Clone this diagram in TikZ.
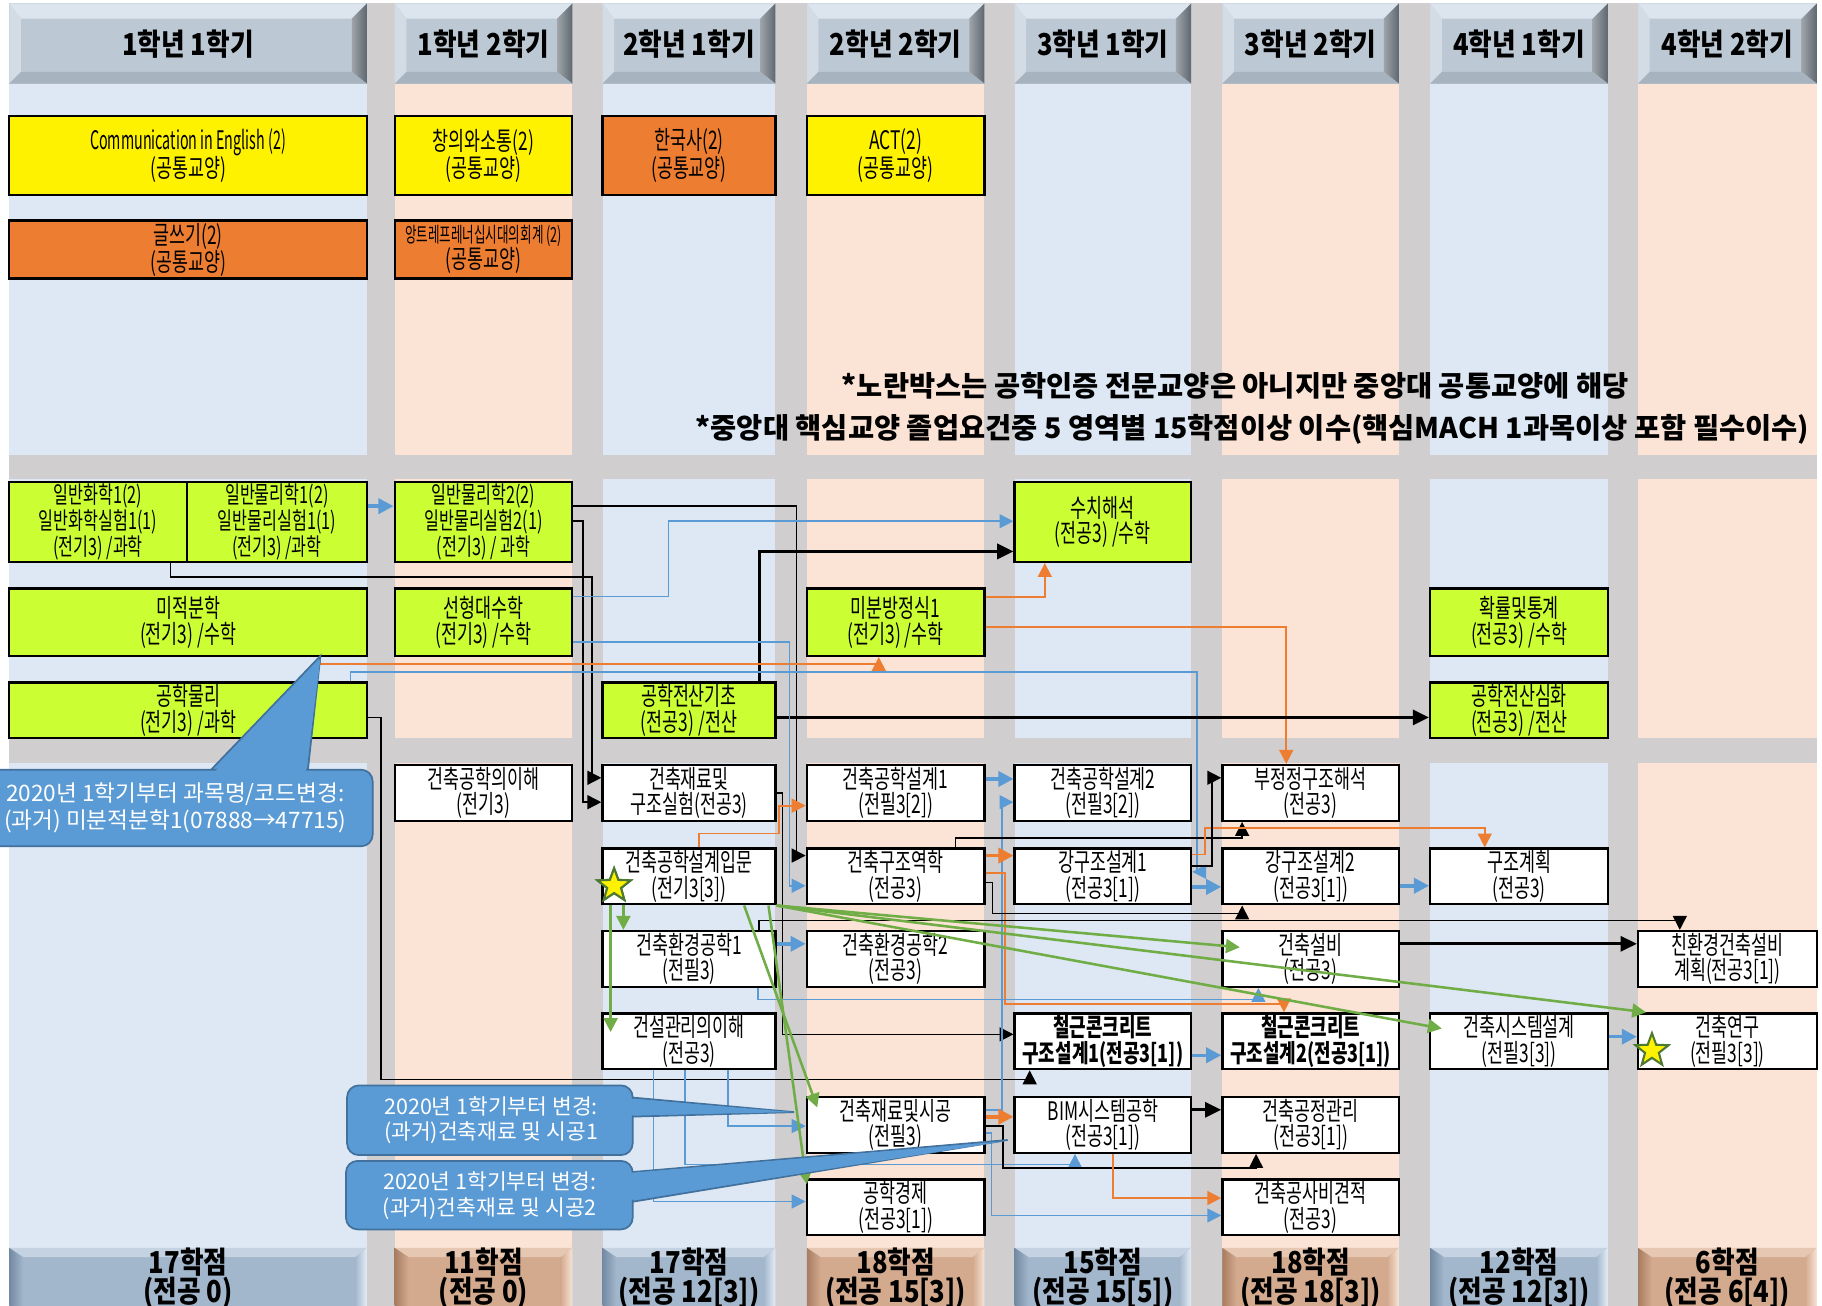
\documentclass[tikz,border=0pt]{standalone}
\usepackage{fontspec}
\usepackage{graphicx}
\setmainfont{Noto Sans CJK KR}
\newfontfamily\krA[FakeStretch=0.68]{Noto Sans CJK KR}
\newfontfamily\krB[FakeStretch=0.72]{Noto Sans CJK KR}
\newfontfamily\krC[FakeStretch=0.85]{Noto Sans CJK KR}
\newfontfamily\krN{Noto Sans CJK KR}
\usetikzlibrary{arrows.meta,calc,shapes.geometric}
\definecolor{bggray}{HTML}{D0CECE}
\definecolor{bandB}{HTML}{DDE8F4}
\definecolor{bandP}{HTML}{FBE4D6}
\definecolor{cgr}{HTML}{CCFF33}
\definecolor{cor}{HTML}{ED7D31}
\definecolor{cbl}{HTML}{5B9BD5}
\definecolor{cbld}{HTML}{41719C}
\definecolor{cgn}{HTML}{70AD47}
\definecolor{hdmain}{HTML}{BCC8D4}
\definecolor{hdtop}{HTML}{DCE5EE}
\definecolor{hdleft}{HTML}{D3DCE5}
\definecolor{hdright}{HTML}{5E6770}
\definecolor{hdbot}{HTML}{A7B3BF}
\definecolor{ftB}{HTML}{A3B7CC}
\definecolor{ftBd}{HTML}{738AA3}
\definecolor{ftBl}{HTML}{E4EDF6}
\definecolor{ftP}{HTML}{D4AA8F}
\definecolor{ftPd}{HTML}{A67C62}
\definecolor{ftPl}{HTML}{F7E4D6}
\newcommand{\cbx}[7]{\node[#6, minimum width={#4-#2}, minimum height={#5-#3}] (#1) at ({(#2+#4)/2},{(#3+#5)/2}) {#7};}
\newcommand{\hdr}[4]{%
 \fill[hdmain] (#1,3) rectangle (#2,72);
 \fill[hdtop] (#1,3) -- (#2,3) -- (#2-13,16) -- (#1+10,16) -- cycle;
 \fill[hdleft] (#1,3) -- (#1+10,16) -- (#1+10,62) -- (#1,72) -- cycle;
 \shade[left color=hdright!60!white, right color=hdright] (#2,3) -- (#2,72) -- (#2-13,62) -- (#2-13,16) -- cycle;
 \fill[hdbot] (#1,72) -- (#2,72) -- (#2-13,62) -- (#1+10,62) -- cycle;
 \node[htxt] (#3) at ({(#1+#2)/2},38) {#4};}
\newcommand{\ftr}[7]{%
 \fill[#4] (#1,1075) rectangle (#2,1130);
 \fill[#6!50!#4] (#1,1075) -- (#2,1075) -- (#2-10,1083) -- (#1+12,1083) -- cycle;
 \shade[left color=#5, right color=#4] (#1,1075) -- (#1+12,1083) -- (#1+12,1130) -- (#1,1130) -- cycle;
 \shade[left color=#4, right color=#6] (#2,1075) -- (#2-10,1083) -- (#2-10,1130) -- (#2,1130) -- cycle;
 \node[ftxt] (#3) at ({(#1+#2)/2},1101) {#7};}
\begin{document}
\begin{tikzpicture}[x=1pt,y=-1pt,
 bx/.style={draw=black, line width=2pt, inner sep=0pt, align=center, text=black, font=\krA\fontsize{22}{22}\selectfont},
 wb/.style={bx, fill=white},
 gb/.style={bx, fill=cgr},
 gb3/.style={bx, fill=cgr, font=\krA\fontsize{20.5}{21}\selectfont},
 yb/.style={bx, fill=yellow},
 ob/.style={bx, fill=cor},
 bb/.style={wb, font=\krB\bfseries\fontsize{21.5}{22}\selectfont},
 htxt/.style={font=\krC\bfseries\fontsize{26}{28}\selectfont, text=black},
 ftxt/.style={font=\krC\bfseries\fontsize{26}{25}\selectfont, text=black, align=center},
 note/.style={font=\krN\bfseries\fontsize{24.5}{28}\selectfont, text=black},
 ctxt/.style={font=\krN\fontsize{19.5}{23}\selectfont, text=white, align=center},
 call/.style={fill=cbl, draw=cbld, line width=1.5pt},
 tip/.style={-{Triangle[length=12pt,width=12pt]}},
 kl/.style={draw=black, line width=1.3pt, tip},
 kt/.style={draw=black, line width=2.6pt, -{Triangle[length=14pt,width=13pt]}},
 bl/.style={draw=cbl, line width=1.3pt, tip},
 bt/.style={draw=cbl, line width=3pt, -{Triangle[length=13pt,width=13pt]}},
 ol/.style={draw=cor, line width=1.5pt, tip},
 ot/.style={draw=cor, line width=3pt, -{Triangle[length=13pt,width=13pt]}},
 gl/.style={draw=cgn, line width=2.2pt, tip},
 starS/.style={star, star points=5, star point ratio=2.4, minimum size=30pt, inner sep=0pt, fill=yellow, draw=cgn!70!black, line width=1.8pt}
]
\useasboundingbox (0,0) rectangle (1569.5,1125);
\clip (0,0) rectangle (1569.5,1125);
\fill[white] (0,0) rectangle (1569.5,1125);
\fill[bggray] (8,3) rectangle (1565,1125);
% column bands
\foreach \a/\b/\c in {8/316/bandB,340/493/bandP,519/668/bandB,695/848/bandP,874/1026/bandB,1053/1205/bandP,1232/1385/bandB,1411/1565/bandP}{
 \fill[\c] (\a,72) rectangle (\b,392);
 \fill[\c] (\a,413) rectangle (\b,636);
 \fill[\c] (\a,657) rectangle (\b,1075);
}
% headers
\hdr{8}{316}{h1}{1학년 1학기}
\hdr{340}{493}{h2}{1학년 2학기}
\hdr{519}{668}{h3}{2학년 1학기}
\hdr{695}{848}{h4}{2학년 2학기}
\hdr{874}{1026}{h5}{3학년 1학기}
\hdr{1053}{1205}{h6}{3학년 2학기}
\hdr{1232}{1385}{h7}{4학년 1학기}
\hdr{1411}{1565}{h8}{4학년 2학기}
% footers
\ftr{8}{316}{f1}{ftB}{ftBd}{ftBl}{17학점\\(전공 0)}
\ftr{340}{493}{f2}{ftP}{ftPd}{ftPl}{11학점\\(전공 0)}
\ftr{519}{668}{f3}{ftB}{ftBd}{ftBl}{17학점\\(전공 12[3])}
\ftr{695}{848}{f4}{ftP}{ftPd}{ftPl}{18학점\\(전공 15[3])}
\ftr{874}{1026}{f5}{ftB}{ftBd}{ftBl}{15학점\\(전공 15[5])}
\ftr{1053}{1205}{f6}{ftP}{ftPd}{ftPl}{18학점\\(전공 18[3])}
\ftr{1232}{1385}{f7}{ftB}{ftBd}{ftBl}{12학점\\(전공 12[3])}
\ftr{1411}{1565}{f8}{ftP}{ftPd}{ftPl}{6학점\\(전공 6[4])}
% top general-education boxes
\cbx{ce}{8}{100}{316}{168}{yb}{\scalebox{0.56}[1]{\krN\fontsize{22}{22}\selectfont Communication in English (2)}\\(공통교양)}
\cbx{cs}{340}{100}{493}{168}{yb}{창의와소통(2)\\(공통교양)}
\cbx{hk}{519}{100}{668}{168}{ob}{한국사(2)\\(공통교양)}
\cbx{act}{695}{100}{848}{168}{yb}{ACT(2)\\(공통교양)}
\cbx{wr}{8}{190}{316}{240}{ob}{글쓰기(2)\\(공통교양)}
\cbx{ent}{340}{190}{493}{240}{ob}{\scalebox{0.6}[1]{\krN\fontsize{18}{20}\selectfont 앙트레프레너십시대의회계 (2)}\\(공통교양)}
% notes
\node[note] (n1) at (1064,332) {*노란박스는 공학인증 전문교양은 아니지만 중앙대 공통교양에 해당};
\node[note, anchor=east] (n2) at (1562,370) {*중앙대 핵심교양 졸업요건중 5 영역별 15학점이상 이수(핵심MACH 1과목이상 포함 필수이수)};
% basic science / math boxes
\cbx{chem}{8}{415}{161}{484}{gb3}{일반화학1(2)\\일반화학실험1(1)\\(전기3) /과학}
\cbx{phy1}{161}{415}{316}{484}{gb3}{일반물리학1(2)\\일반물리실험1(1)\\(전기3) /과학}
\cbx{phy2}{340}{415}{493}{484}{gb3}{일반물리학2(2)\\일반물리실험2(1)\\(전기3) / 과학}
\cbx{calc}{8}{507}{316}{565}{gb}{미적분학\\(전기3) /수학}
\cbx{lin}{340}{507}{493}{565}{gb}{선형대수학\\(전기3) /수학}
\cbx{ephy}{8}{588}{316}{636}{gb}{공학물리\\(전기3) /과학}
\cbx{cbase}{519}{588}{668}{636}{gb}{공학전산기초\\(전공3) /전산}
\cbx{num}{874}{415}{1026}{484}{gb}{수치해석\\(전공3) /수학}
\cbx{ode}{695}{507}{848}{565}{gb}{미분방정식1\\(전기3) /수학}
\cbx{prob}{1232}{507}{1385}{565}{gb}{확률및통계\\(전공3) /수학}
\cbx{cadv}{1232}{588}{1385}{636}{gb}{공학전산심화\\(전공3) /전산}
% major boxes
\cbx{intro}{340}{659}{493}{707}{wb}{건축공학의이해\\(전기3)}
\cbx{mat}{519}{659}{668}{707}{wb}{건축재료및\\구조실험(전공3)}
\cbx{des1}{695}{659}{848}{707}{wb}{건축공학설계1\\(전필3[2])}
\cbx{des2}{874}{659}{1026}{707}{wb}{건축공학설계2\\(전필3[2])}
\cbx{indet}{1053}{659}{1205}{707}{wb}{부정정구조해석\\(전공3)}
\cbx{dintro}{519}{731}{668}{779}{wb}{건축공학설계입문\\(전기3[3])}
\cbx{smech}{695}{731}{848}{779}{wb}{건축구조역학\\(전공3)}
\cbx{steel1}{874}{731}{1026}{779}{wb}{강구조설계1\\(전공3[1])}
\cbx{steel2}{1053}{731}{1205}{779}{wb}{강구조설계2\\(전공3[1])}
\cbx{splan}{1232}{731}{1385}{779}{wb}{구조계획\\(전공3)}
\cbx{env1}{519}{802}{668}{850}{wb}{건축환경공학1\\(전필3)}
\cbx{env2}{695}{802}{848}{850}{wb}{건축환경공학2\\(전공3)}
\cbx{mep}{1053}{802}{1205}{850}{wb}{건축설비\\(전공3)}
\cbx{gmep}{1411}{802}{1565}{850}{wb}{친환경건축설비\\계획(전공3[1])}
\cbx{cm}{519}{873}{668}{921}{wb}{건설관리의이해\\(전공3)}
\cbx{rc1}{874}{873}{1026}{921}{bb}{철근콘크리트\\구조설계1(전공3[1])}
\cbx{rc2}{1053}{873}{1205}{921}{bb}{철근콘크리트\\구조설계2(전공3[1])}
\cbx{sys}{1232}{873}{1385}{921}{wb}{건축시스템설계\\(전필3[3])}
\cbx{res}{1411}{873}{1565}{921}{wb}{건축연구\\(전필3[3])}
\cbx{matc}{695}{945}{848}{993}{wb}{건축재료및시공\\(전필3)}
\cbx{bim}{874}{945}{1026}{993}{wb}{BIM시스템공학\\(전공3[1])}
\cbx{sched}{1053}{945}{1205}{993}{wb}{건축공정관리\\(전공3[1])}
\cbx{econ}{695}{1016}{848}{1064}{wb}{공학경제\\(전공3[1])}
\cbx{cost}{1053}{1016}{1205}{1064}{wb}{건축공사비견적\\(전공3)}
% stars
\node[starS] (st1) at (529,763) {};
\node[starS] (st2) at (1423,905) {};
% connectors: upper section
\draw[bt] (phy1.east |- 0,436) -- (phy2.west |- 0,436);
\draw[kl] (phy2.east |- 0,436) -- (686,436) |- (smech.west |- 0,737);
\draw[kl] (phy2.east |- 0,449) -- (502,449) |- (mat.west |- 0,691);
\draw[kl] (chem.south -| 147,0) -- (147,497) -- (510,497) |- (mat.west |- 0,670);
\draw[bl] (lin.east |- 0,514) -- (576,514) |- (num.west |- 0,449);
\draw[kt] (cbase.north -| 654,0) |- (num.west |- 0,475);
\draw[ol] (ode.east |- 0,514) -| (num.south -| 900,0);
\draw[ol] (ode.east |- 0,540) -| (indet.north -| 1108,0);
\draw[ol] (calc.south -| 276,0) -- (276,572) -| (ode.south -| 757,0);
\draw[bl] (ephy.north -| 302,0) -- (302,579) -- (1031,579) |- (steel1.east |- 0,751);
\draw[kl] (ephy.east |- 0,618) -- (328,618) |- (887,930) -- (rc1.south -| 887,0);
\draw[kt] (cbase.east |- 0,618) -- (cadv.west |- 0,618);
\draw[bl] (lin.east |- 0,553) -- (680,553) |- (smech.west |- 0,763);
% lower section
\draw[kl] (mat.east |- 0,683) -- (674,683) |- (rc1.west |- 0,891);
\draw[ol] (dintro.north -| 602,0) -- (602,718) -- (671,718) |- (des1.west |- 0,694);
\draw[bt] (des1.east |- 0,671) -- (des2.west |- 0,671);
\draw[bl] (matc.east |- 0,956) -- (863,956) |- (des2.west |- 0,691);
\draw[ot] (smech.east |- 0,737) -- (steel1.west |- 0,737);
\draw[kl] (smech.north -| 823,0) -- (823,722) -| (indet.south -| 1070,0);
\draw[ol] (smech.east |- 0,752) -- (866,752) |- (1106,865) -- (rc2.north -| 1106,0);
\draw[ol] (steel1.east |- 0,736) -- (1038,736) |- (1279,713) -- (splan.north -| 1279,0);
\draw[kl] (steel1.east |- 0,746) -- (1044,746) |- (indet.west |- 0,670);
\draw[bt] (steel1.east |- 0,764) -- (steel2.west |- 0,764);
\draw[bt] (steel2.east |- 0,763) -- (splan.west |- 0,763);
\draw[kl] (smech.east |- 0,760) -- (855,760) |- (1070,787) -- (steel2.south -| 1070,0);
\draw[kl] (env1.north -| 654,0) -- (654,793) -| (gmep.north -| 1447,0);
\draw[kt] (mep.east |- 0,813) -- (gmep.west |- 0,813);
\draw[bt] (env1.east |- 0,813) -- (env2.west |- 0,813);
\draw[bl] (env1.south -| 653,0) -- (653,861) -| (mep.south -| 1084,0);
\draw[bl] (cm.south -| 563,0) |- (econ.west |- 0,1035);
\draw[bl] (cm.south -| 590,0) |- (926,1003) -- (bim.south -| 926,0);
\draw[bl] (cm.south -| 627,0) |- (matc.west |- 0,970);
\draw[ot] (matc.east |- 0,962) -- (bim.west |- 0,962);
\draw[kl] (matc.east |- 0,970) -- (864,970) |- (1082,1006) -- (sched.south -| 1082,0);
\draw[bl] (matc.east |- 0,976) -- (854,976) |- (cost.west |- 0,1047);
\draw[kt] (bim.east |- 0,956) -- (sched.west |- 0,956);
\draw[ol] (bim.south -| 959,0) |- (cost.west |- 0,1032);
\draw[bt] (rc1.east |- 0,909) -- (rc2.west |- 0,909);
\draw[bt] (sys.east |- 0,893) -- (res.west |- 0,893);
% green arrows from 건축공학설계입문
\draw[gl] (dintro.south -| 537,0) -- (env1.north -| 537,0);
\draw[gl] (dintro.south -| 526,0) -- ($(cm.north -| 526,0)+(0,17)$);
\draw[gl] (dintro.south -| 641,0) -- ($(matc.north -| 704,0)+(0,10)$);
\draw[gl] (dintro.south -| 662,0) -- ($(econ.north west)+(1,5)$);
\draw[gl] (dintro.south east) -- ($(mep.west |- 0,816)+(16,0)$);
\draw[gl] (dintro.south east) -- ($(sys.west |- 0,886)+(11,0)$);
\draw[gl] (dintro.south east) -- ($(res.north west)+(8,0)$);
\node[starS] at (st1) {};
% callouts
\fill[call] (180,665) -- (276,565) -- (265,665) -- cycle;
\draw[call, rounded corners=10pt] (-20,663) rectangle (321,729);
\fill[cbl] (182,668) -- (276,568) -- (263,668) -- cycle;
\node[ctxt] (co1) at (151,696) {2020년 1학기부터 과목명/코드변경:\\(과거) 미분적분학1(07888→47715)};
\fill[call] (540,945) -- (684,958) -- (540,962) -- cycle;
\draw[call, rounded corners=10pt] (299,935) rectangle (545,995);
\fill[cbl] (535,946) -- (684,958) -- (535,961) -- cycle;
\node[ctxt, font=\krN\fontsize{18.5}{22}\selectfont] (co2) at (423,965) {2020년 1학기부터 변경:\\(과거)건축재료 및 시공1};
\fill[call] (540,1010) -- (868,982) -- (540,1036) -- cycle;
\draw[call, rounded corners=10pt] (298,1000) rectangle (545,1059);
\fill[cbl] (535,1011) -- (866,983) -- (535,1035) -- cycle;
\node[ctxt, font=\krN\fontsize{18.5}{22}\selectfont] (co3) at (422,1030) {2020년 1학기부터 변경:\\(과거)건축재료 및 시공2};
\end{tikzpicture}
\end{document}
